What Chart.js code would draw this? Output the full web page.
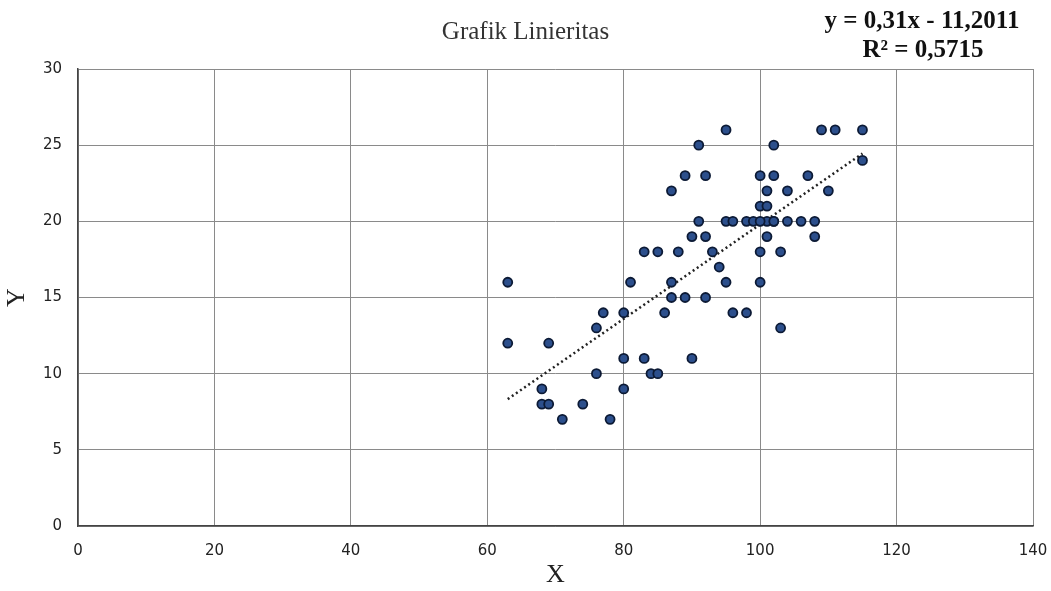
<!DOCTYPE html>
<html>
<head>
<meta charset="utf-8">
<title>Grafik Linieritas</title>
<script src="https://cdn.jsdelivr.net/npm/chart.js@4.4.1/dist/chart.umd.min.js"></script>
<style>
  html, body { margin: 0; padding: 0; background: #fff; }
  #wrap { width: 1051px; height: 591px; }
</style>
</head>
<body>
<div id="wrap"><canvas id="linieritas-chart" width="1051" height="591"></canvas></div>
<script>
// data
const xValues = [
  63, 63, 68, 68, 69, 69, 71, 74, 76, 76, 77, 78, 80, 80, 80, 81, 83, 83, 84, 85,
  85, 86, 87, 87, 87, 88, 89, 89, 90, 90, 91, 91, 92, 92, 92, 93, 94, 95, 95, 95,
  96, 96, 98, 98, 99, 100, 100, 100, 100, 101, 101, 101, 102, 102, 102, 103, 103,
  104, 104, 106, 107, 108, 108, 109, 110, 111, 115, 115, 101, 100, 102
];
const yValues = [
  16, 12, 9, 8, 8, 12, 7, 8, 13, 10, 14, 7, 14, 11, 9, 16, 18, 11, 10, 10,
  18, 14, 22, 16, 15, 18, 23, 15, 19, 11, 25, 20, 23, 19, 15, 18, 17, 26, 20, 16,
  20, 14, 20, 14, 20, 23, 21, 18, 16, 22, 21, 19, 25, 23, 20, 18, 13,
  22, 20, 20, 23, 20, 19, 26, 22, 26, 26, 24, 20, 20, 20
];
// trendline end points (Excel linear trend, y = 0,31x - 11,2011)
const trendX = [63, 115];
const trendY = [8.33, 24.45];
const xTicks = [0, 20, 40, 60, 80, 100, 120, 140];
const yTicks = [0, 5, 10, 15, 20, 25, 30];
const chartTitle = 'Grafik Linieritas';
const equationLines = ['y = 0,31x - 11,2011', 'R\u00b2 = 0,5715'];

const points = xValues.map(function(x, i) { return { x: x, y: yValues[i] }; });
const trend = trendX.map(function(x, i) { return { x: x, y: trendY[i] }; });

// draws the trendline equation top-right
const equationPlugin = {
  id: 'equation',
  afterDraw: function(chart) {
    const ctx = chart.ctx;
    ctx.save();
    ctx.fillStyle = '#111';
    ctx.font = 'bold 25px "Liberation Serif", "DejaVu Serif", serif';
    ctx.textAlign = 'center';
    ctx.textBaseline = 'middle';
    ctx.fillText(equationLines[0], 922, 22);
    ctx.fillText(equationLines[1], 923, 51);
    ctx.restore();
  }
};

const ctx = document.getElementById('linieritas-chart').getContext('2d');
new Chart(ctx, {
  type: 'scatter',
  data: {
    datasets: [{
      label: 'Y',
      data: points,
      backgroundColor: '#2c4f8c',
      borderColor: '#0c1a35',
      borderWidth: 1.8,
      pointRadius: 4.5,
      order: 1
    }, {
      label: 'Trend',
      data: trend,
      type: 'line',
      showLine: true,
      borderColor: '#222',
      borderWidth: 2.5,
      borderDash: [2, 3],
      pointRadius: 0,
      fill: false,
      order: 2
    }]
  },
  options: {
    responsive: false,
    animation: false,
    layout: { padding: 0 },
    plugins: {
      legend: { display: false },
      tooltip: { enabled: false },
      title: {
        display: true,
        text: chartTitle,
        color: '#333',
        font: { family: '"Liberation Serif", "DejaVu Serif", serif', size: 25, weight: 'normal' },
        padding: { top: 17, bottom: 22 }
      }
    },
    scales: {
      x: {
        type: 'linear',
        min: 0,
        max: 140,
        afterBuildTicks: function(scale) {
          scale.ticks = xTicks.map(function(v) { return { value: v }; });
        },
        afterFit: function(scale) {
          scale.height = 65;
          scale.paddingLeft = 0;
          scale.paddingRight = 18;
        },
        grid: { color: '#8a8a8a', lineWidth: 1, drawTicks: false },
        border: { color: '#444', width: 1.5 },
        ticks: {
          color: '#222',
          padding: 16,
          font: { family: '"DejaVu Sans", sans-serif', size: 15 }
        },
        title: {
          display: true,
          text: 'X',
          color: '#222',
          font: { family: '"Liberation Serif", "DejaVu Serif", serif', size: 26 },
          padding: { top: 0, bottom: 0 }
        }
      },
      y: {
        type: 'linear',
        min: 0,
        max: 30,
        afterBuildTicks: function(scale) {
          scale.ticks = yTicks.map(function(v) { return { value: v }; });
        },
        afterFit: function(scale) { scale.width = 78; },
        grid: { color: '#8a8a8a', lineWidth: 1, drawTicks: false },
        border: { color: '#444', width: 1.5 },
        ticks: {
          color: '#222',
          padding: 16,
          font: { family: '"DejaVu Sans", sans-serif', size: 15 }
        },
        title: {
          display: true,
          text: 'Y',
          color: '#222',
          font: { family: '"Liberation Serif", "DejaVu Serif", serif', size: 26 },
          padding: { top: 2, bottom: 0 }
        }
      }
    }
  },
  plugins: [equationPlugin]
});
</script>
</body>
</html>
